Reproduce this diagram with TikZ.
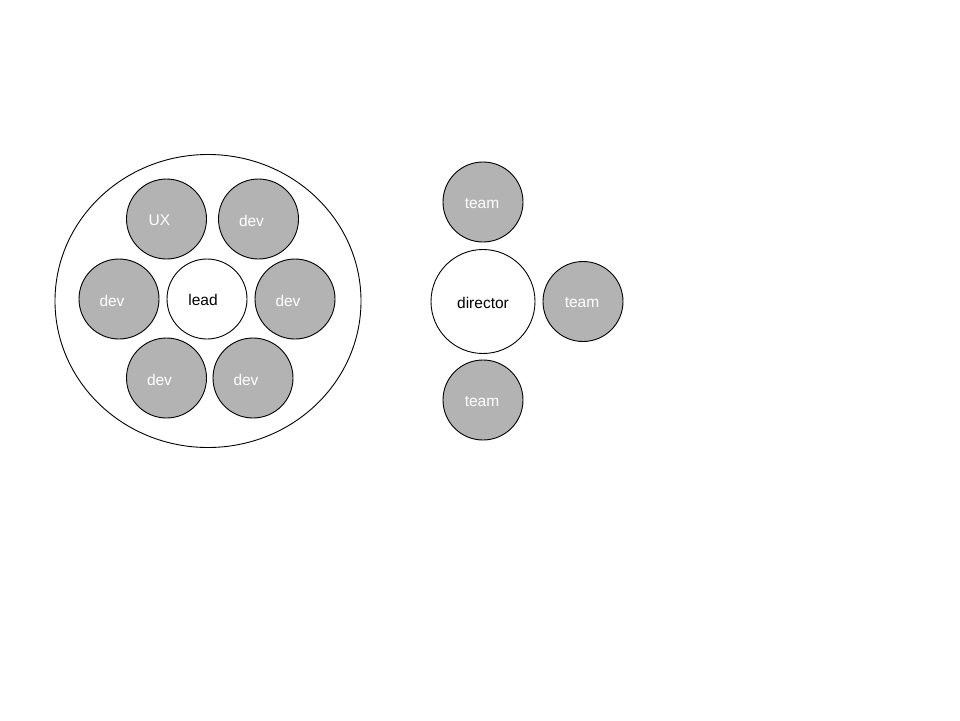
\documentclass[tikz,border=0pt]{standalone}
\usepackage{fontspec}
\setmainfont{Liberation Sans}
\usetikzlibrary{shapes.geometric}
\definecolor{membergray}{HTML}{B3B3B3}
\begin{document}
\begin{tikzpicture}[x=1pt,y=-1pt,
  txt/.style={font=\fontsize{15.5}{18}\selectfont},
  base/.style={circle,draw=black,line width=0.9pt,inner sep=0pt,txt},
  member/.style={base,fill=membergray,minimum size=80pt},
  memberL/.style={member,label={[text=white,txt,xshift=-7pt,yshift=-1.5pt]center:#1}},
  memberR/.style={member,label={[text=white,txt,xshift=-1pt,yshift=-1.5pt]center:#1}},
  leader/.style={base,fill=white,minimum size=80pt},
]
\useasboundingbox (0,0) rectangle (960,720);
% left group
\node[draw=black,line width=0.9pt,ellipse,minimum width=306pt,minimum height=293pt,inner sep=0pt] (group) at (208,301) {};
\node[memberL=UX] (ux) at (166.5,219) {};
\node[memberL=dev] (dev1) at (258.5,219) {};
\node[memberL=dev] (dev2) at (119,299) {};
\node[leader,label={[txt,xshift=-4pt,yshift=-1pt]center:lead}] (lead) at (207,299) {};
\node[memberL=dev] (dev3) at (295,299) {};
\node[memberL=dev] (dev4) at (166.5,378) {};
\node[memberL=dev] (dev5) at (253,378) {};
% right group
\node[memberR=team] (team1) at (483,202) {};
\node[base,fill=white,minimum size=104pt,label={[txt,yshift=-1pt]center:director}] (director) at (483,301.5) {};
\node[memberR=team] (team2) at (583,301.5) {};
\node[memberR=team] (team3) at (483,400) {};
\end{tikzpicture}
\end{document}
